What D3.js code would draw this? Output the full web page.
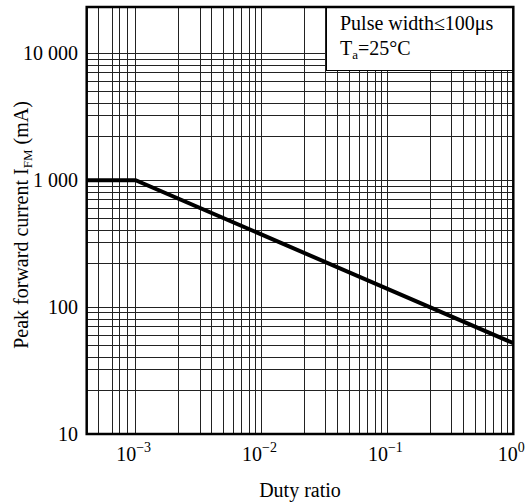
<!DOCTYPE html>
<html>
<head>
<meta charset="utf-8">
<script src="https://cdn.jsdelivr.net/npm/d3@7"></script>
<style>
  body { margin: 0; background: #fff; }
  svg text { font-family: "Liberation Serif", "Times New Roman", serif; fill: #000; }
</style>
</head>
<body>
<div id="chart"></div>
<script>
// curve: duty ratio vs peak forward current (mA)
var dutyRatio = [0.000409, 0.001, 1];
var currentMA = [1000, 1000, 52];

// grid as drawn on the sheet
var xGridFirst = [0.00051, 0.00065, 0.00074, 0.00086];
var xDecades = [0.001, 0.01, 0.1];
var yDecades = [10, 100, 1000];
var gridSteps = [2.2, 3.25, 4, 5, 6, 7, 8, 9];

var xTicks = [0.001, 0.01, 0.1, 1];
var xTickPow = ["\u22123", "\u22122", "\u22121", "0"];
var yTicks = [10, 100, 1000, 10000];
var yTickLabels = ["10", "100", "1 000", "10 000"];

var legendLines = ["Pulse width\u2264100\u03bcs", "Ta=25\u00b0C"];

var W = 530, H = 504,
	box = {left: 86.7, right: 513.3, top: 7, bottom: 434};

var x = d3.scaleLog().domain([0.000409, 1]).range([box.left, box.right]);
var y = d3.scaleLog().domain([10, 23170]).range([box.bottom, box.top]);

var svg = d3.select("#chart").append("svg")
	.attr("width", W)
	.attr("height", H);

// build grid values
var xMinor = xGridFirst.slice();
xDecades.forEach(function(d) {
	gridSteps.forEach(function(s) { xMinor.push(d * s); });
});
var yMinor = [];
yDecades.forEach(function(d) {
	gridSteps.forEach(function(s) { yMinor.push(d * s); });
});

var grid = svg.append("g").attr("class", "grid").attr("shape-rendering", "crispEdges");

grid.selectAll(".vx")
	.data(xMinor.concat(xDecades))
	.enter().append("line")
	.attr("x1", function(d) { return x(d); })
	.attr("x2", function(d) { return x(d); })
	.attr("y1", box.top)
	.attr("y2", box.bottom)
	.attr("stroke", "#222")
	.attr("stroke-width", 1);

grid.selectAll(".hy")
	.data(yMinor.concat(yTicks))
	.enter().append("line")
	.attr("x1", box.left)
	.attr("x2", box.right)
	.attr("y1", function(d) { return y(d); })
	.attr("y2", function(d) { return y(d); })
	.attr("stroke", "#222")
	.attr("stroke-width", 1);

// legend box covers the grid
var legend = svg.append("g");
legend.append("rect")
	.attr("x", 326)
	.attr("y", box.top)
	.attr("width", box.right - 326)
	.attr("height", 63)
	.attr("fill", "#fff")
	.attr("stroke", "#000")
	.attr("stroke-width", 1)
	.attr("shape-rendering", "crispEdges");

legend.append("text")
	.attr("x", 340)
	.attr("y", 30)
	.attr("font-size", 20)
	.text(legendLines[0]);

var t2 = legend.append("text")
	.attr("x", 340)
	.attr("y", 55)
	.attr("font-size", 20);
t2.append("tspan").text("T");
t2.append("tspan").attr("font-size", 13).attr("dy", 4).text("a");
t2.append("tspan").attr("dy", -4).text("=25\u00b0C");

// curve
var line = d3.line()
	.x(function(d) { return x(d[0]); })
	.y(function(d) { return y(d[1]); });

svg.append("path")
	.datum(d3.zip(dutyRatio, currentMA))
	.attr("d", line)
	.attr("fill", "none")
	.attr("stroke", "#000")
	.attr("stroke-width", 4);

// frame
svg.append("rect")
	.attr("x", box.left)
	.attr("y", box.top)
	.attr("width", box.right - box.left)
	.attr("height", box.bottom - box.top)
	.attr("fill", "none")
	.attr("stroke", "#000")
	.attr("stroke-width", 2.5);

// y tick labels
svg.selectAll(".ylab")
	.data(yTicks)
	.enter().append("text")
	.attr("x", 78)
	.attr("y", function(d) { return y(d); })
	.attr("dy", "0.35em")
	.attr("text-anchor", "end")
	.attr("font-size", 20)
	.text(function(d, i) { return yTickLabels[i]; });

// x tick labels with powers
var xl = svg.selectAll(".xlab")
	.data(xTicks)
	.enter().append("text")
	.attr("x", function(d) { return x(d) - 2; })
	.attr("y", 461)
	.attr("text-anchor", "middle")
	.attr("font-size", 20);
xl.append("tspan").text("10");
xl.append("tspan")
	.attr("font-size", 14)
	.attr("dy", -9)
	.text(function(d, i) { return xTickPow[i]; });

// axis titles
svg.append("text")
	.attr("x", 300)
	.attr("y", 497)
	.attr("text-anchor", "middle")
	.attr("font-size", 20)
	.text("Duty ratio");

var yt = svg.append("text")
	.attr("transform", "translate(28,225) rotate(-90)")
	.attr("text-anchor", "middle")
	.attr("font-size", 20);
yt.append("tspan").text("Peak forward current I");
yt.append("tspan").attr("font-size", 13).attr("dy", 4).text("FM");
yt.append("tspan").attr("dy", -4).text(" (mA)");
</script>
</body>
</html>
